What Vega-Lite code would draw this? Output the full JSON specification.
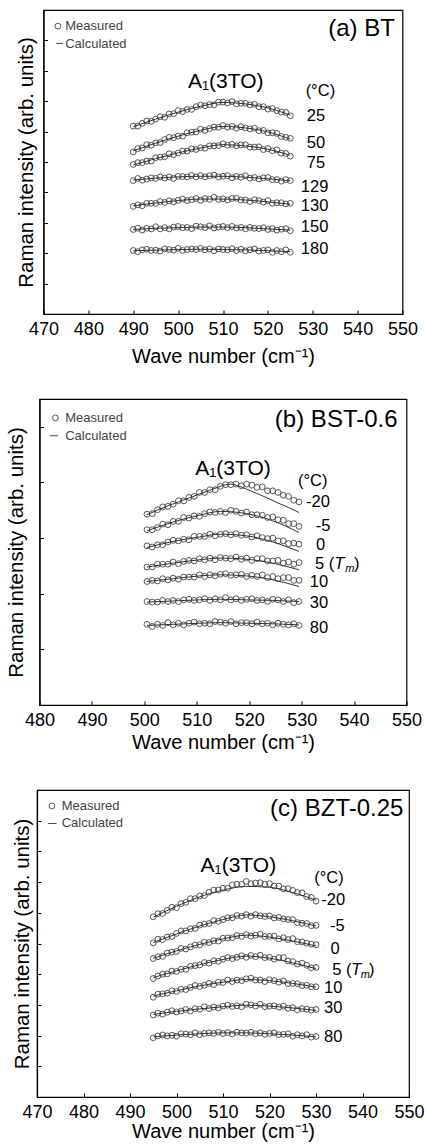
{
"$schema":"https://vega.github.io/schema/vega-lite/v6.json",
"padding":{"left":5,"top":9,"right":0,"bottom":0},
"autosize":{"type":"pad"},
"bounds":"flush",
"center":true,
"spacing":85,
"config":{
"font":"Liberation Sans",
"view":{"stroke":"#000","strokeWidth":1.2},
"axis":{"grid":false,"domainColor":"#000","domainWidth":1.2,"tickColor":"#000","tickSize":-4,"tickWidth":1,"labelColor":"#000","labelFont":"Liberation Sans","labelFontSize":18,"titleColor":"#000","titleFont":"Liberation Sans","titleFontSize":20,"titleFontWeight":"normal","labelFlush":false,"labelOverlap":false},
"axisX":{"labelPadding":10},
"axisY":{"titleFontSize":20.5},
"point":{"shape":"circle","filled":false,"size":34,"color":"#444","strokeWidth":0.9,"opacity":1}
},
"datasets":{
"am":[
{"s":"25","x":490,"y":6.18},{"s":"25","x":491,"y":6.18},{"s":"25","x":492,"y":6.27},{"s":"25","x":493,"y":6.35},{"s":"25","x":494,"y":6.34},{"s":"25","x":495,"y":6.41},{"s":"25","x":496,"y":6.49},{"s":"25","x":497,"y":6.47},{"s":"25","x":498,"y":6.58},{"s":"25","x":499,"y":6.59},{"s":"25","x":500,"y":6.69},{"s":"25","x":501,"y":6.66},{"s":"25","x":502,"y":6.73},{"s":"25","x":503,"y":6.73},{"s":"25","x":504,"y":6.82},{"s":"25","x":505,"y":6.87},{"s":"25","x":506,"y":6.85},{"s":"25","x":507,"y":6.89},{"s":"25","x":508,"y":6.88},{"s":"25","x":509,"y":6.97},{"s":"25","x":510,"y":6.97},{"s":"25","x":511,"y":6.94},{"s":"25","x":512,"y":6.99},{"s":"25","x":513,"y":6.91},{"s":"25","x":514,"y":6.93},{"s":"25","x":515,"y":6.93},{"s":"25","x":516,"y":6.88},{"s":"25","x":517,"y":6.90},{"s":"25","x":518,"y":6.82},{"s":"25","x":519,"y":6.82},{"s":"25","x":520,"y":6.74},{"s":"25","x":521,"y":6.76},{"s":"25","x":522,"y":6.69},{"s":"25","x":523,"y":6.64},{"s":"25","x":524,"y":6.63},{"s":"25","x":525,"y":6.52},
{"s":"50","x":490,"y":5.33},{"s":"50","x":491,"y":5.44},{"s":"50","x":492,"y":5.46},{"s":"50","x":493,"y":5.57},{"s":"50","x":494,"y":5.55},{"s":"50","x":495,"y":5.63},{"s":"50","x":496,"y":5.64},{"s":"50","x":497,"y":5.74},{"s":"50","x":498,"y":5.81},{"s":"50","x":499,"y":5.80},{"s":"50","x":500,"y":5.85},{"s":"50","x":501,"y":5.85},{"s":"50","x":502,"y":5.96},{"s":"50","x":503,"y":5.98},{"s":"50","x":504,"y":5.99},{"s":"50","x":505,"y":6.08},{"s":"50","x":506,"y":6.04},{"s":"50","x":507,"y":6.10},{"s":"50","x":508,"y":6.15},{"s":"50","x":509,"y":6.14},{"s":"50","x":510,"y":6.20},{"s":"50","x":511,"y":6.15},{"s":"50","x":512,"y":6.17},{"s":"50","x":513,"y":6.11},{"s":"50","x":514,"y":6.16},{"s":"50","x":515,"y":6.12},{"s":"50","x":516,"y":6.09},{"s":"50","x":517,"y":6.11},{"s":"50","x":518,"y":6.03},{"s":"50","x":519,"y":6.04},{"s":"50","x":520,"y":5.96},{"s":"50","x":521,"y":5.96},{"s":"50","x":522,"y":5.94},{"s":"50","x":523,"y":5.84},{"s":"50","x":524,"y":5.81},{"s":"50","x":525,"y":5.78},
{"s":"75","x":490,"y":4.92},{"s":"75","x":491,"y":4.98},{"s":"75","x":492,"y":4.98},{"s":"75","x":493,"y":5.03},{"s":"75","x":494,"y":5.03},{"s":"75","x":495,"y":5.14},{"s":"75","x":496,"y":5.16},{"s":"75","x":497,"y":5.17},{"s":"75","x":498,"y":5.27},{"s":"75","x":499,"y":5.24},{"s":"75","x":500,"y":5.30},{"s":"75","x":501,"y":5.36},{"s":"75","x":502,"y":5.36},{"s":"75","x":503,"y":5.43},{"s":"75","x":504,"y":5.41},{"s":"75","x":505,"y":5.47},{"s":"75","x":506,"y":5.45},{"s":"75","x":507,"y":5.53},{"s":"75","x":508,"y":5.53},{"s":"75","x":509,"y":5.54},{"s":"75","x":510,"y":5.60},{"s":"75","x":511,"y":5.55},{"s":"75","x":512,"y":5.58},{"s":"75","x":513,"y":5.53},{"s":"75","x":514,"y":5.56},{"s":"75","x":515,"y":5.57},{"s":"75","x":516,"y":5.49},{"s":"75","x":517,"y":5.49},{"s":"75","x":518,"y":5.50},{"s":"75","x":519,"y":5.41},{"s":"75","x":520,"y":5.44},{"s":"75","x":521,"y":5.37},{"s":"75","x":522,"y":5.40},{"s":"75","x":523,"y":5.29},{"s":"75","x":524,"y":5.28},{"s":"75","x":525,"y":5.19},
{"s":"129","x":490,"y":4.39},{"s":"129","x":491,"y":4.46},{"s":"129","x":492,"y":4.40},{"s":"129","x":493,"y":4.44},{"s":"129","x":494,"y":4.48},{"s":"129","x":495,"y":4.46},{"s":"129","x":496,"y":4.51},{"s":"129","x":497,"y":4.47},{"s":"129","x":498,"y":4.51},{"s":"129","x":499,"y":4.46},{"s":"129","x":500,"y":4.53},{"s":"129","x":501,"y":4.52},{"s":"129","x":502,"y":4.51},{"s":"129","x":503,"y":4.56},{"s":"129","x":504,"y":4.51},{"s":"129","x":505,"y":4.55},{"s":"129","x":506,"y":4.51},{"s":"129","x":507,"y":4.55},{"s":"129","x":508,"y":4.57},{"s":"129","x":509,"y":4.51},{"s":"129","x":510,"y":4.53},{"s":"129","x":511,"y":4.55},{"s":"129","x":512,"y":4.48},{"s":"129","x":513,"y":4.53},{"s":"129","x":514,"y":4.50},{"s":"129","x":515,"y":4.55},{"s":"129","x":516,"y":4.47},{"s":"129","x":517,"y":4.49},{"s":"129","x":518,"y":4.44},{"s":"129","x":519,"y":4.48},{"s":"129","x":520,"y":4.49},{"s":"129","x":521,"y":4.42},{"s":"129","x":522,"y":4.42},{"s":"129","x":523,"y":4.37},{"s":"129","x":524,"y":4.42},{"s":"129","x":525,"y":4.39},
{"s":"130","x":490,"y":3.54},{"s":"130","x":491,"y":3.59},{"s":"130","x":492,"y":3.56},{"s":"130","x":493,"y":3.64},{"s":"130","x":494,"y":3.64},{"s":"130","x":495,"y":3.64},{"s":"130","x":496,"y":3.70},{"s":"130","x":497,"y":3.67},{"s":"130","x":498,"y":3.72},{"s":"130","x":499,"y":3.69},{"s":"130","x":500,"y":3.74},{"s":"130","x":501,"y":3.78},{"s":"130","x":502,"y":3.73},{"s":"130","x":503,"y":3.76},{"s":"130","x":504,"y":3.80},{"s":"130","x":505,"y":3.74},{"s":"130","x":506,"y":3.80},{"s":"130","x":507,"y":3.77},{"s":"130","x":508,"y":3.84},{"s":"130","x":509,"y":3.77},{"s":"130","x":510,"y":3.79},{"s":"130","x":511,"y":3.75},{"s":"130","x":512,"y":3.80},{"s":"130","x":513,"y":3.81},{"s":"130","x":514,"y":3.75},{"s":"130","x":515,"y":3.75},{"s":"130","x":516,"y":3.70},{"s":"130","x":517,"y":3.76},{"s":"130","x":518,"y":3.73},{"s":"130","x":519,"y":3.68},{"s":"130","x":520,"y":3.73},{"s":"130","x":521,"y":3.64},{"s":"130","x":522,"y":3.66},{"s":"130","x":523,"y":3.66},{"s":"130","x":524,"y":3.62},{"s":"130","x":525,"y":3.64},
{"s":"150","x":490,"y":2.78},{"s":"150","x":491,"y":2.82},{"s":"150","x":492,"y":2.76},{"s":"150","x":493,"y":2.82},{"s":"150","x":494,"y":2.80},{"s":"150","x":495,"y":2.87},{"s":"150","x":496,"y":2.80},{"s":"150","x":497,"y":2.84},{"s":"150","x":498,"y":2.80},{"s":"150","x":499,"y":2.86},{"s":"150","x":500,"y":2.88},{"s":"150","x":501,"y":2.84},{"s":"150","x":502,"y":2.85},{"s":"150","x":503,"y":2.81},{"s":"150","x":504,"y":2.89},{"s":"150","x":505,"y":2.87},{"s":"150","x":506,"y":2.84},{"s":"150","x":507,"y":2.90},{"s":"150","x":508,"y":2.83},{"s":"150","x":509,"y":2.86},{"s":"150","x":510,"y":2.88},{"s":"150","x":511,"y":2.84},{"s":"150","x":512,"y":2.88},{"s":"150","x":513,"y":2.83},{"s":"150","x":514,"y":2.85},{"s":"150","x":515,"y":2.80},{"s":"150","x":516,"y":2.85},{"s":"150","x":517,"y":2.82},{"s":"150","x":518,"y":2.81},{"s":"150","x":519,"y":2.84},{"s":"150","x":520,"y":2.78},{"s":"150","x":521,"y":2.81},{"s":"150","x":522,"y":2.76},{"s":"150","x":523,"y":2.79},{"s":"150","x":524,"y":2.81},{"s":"150","x":525,"y":2.74},
{"s":"180","x":490,"y":2.09},{"s":"180","x":491,"y":2.05},{"s":"180","x":492,"y":2.11},{"s":"180","x":493,"y":2.13},{"s":"180","x":494,"y":2.09},{"s":"180","x":495,"y":2.10},{"s":"180","x":496,"y":2.07},{"s":"180","x":497,"y":2.14},{"s":"180","x":498,"y":2.12},{"s":"180","x":499,"y":2.10},{"s":"180","x":500,"y":2.16},{"s":"180","x":501,"y":2.09},{"s":"180","x":502,"y":2.12},{"s":"180","x":503,"y":2.14},{"s":"180","x":504,"y":2.12},{"s":"180","x":505,"y":2.16},{"s":"180","x":506,"y":2.11},{"s":"180","x":507,"y":2.14},{"s":"180","x":508,"y":2.08},{"s":"180","x":509,"y":2.14},{"s":"180","x":510,"y":2.12},{"s":"180","x":511,"y":2.11},{"s":"180","x":512,"y":2.15},{"s":"180","x":513,"y":2.09},{"s":"180","x":514,"y":2.13},{"s":"180","x":515,"y":2.08},{"s":"180","x":516,"y":2.11},{"s":"180","x":517,"y":2.14},{"s":"180","x":518,"y":2.07},{"s":"180","x":519,"y":2.09},{"s":"180","x":520,"y":2.11},{"s":"180","x":521,"y":2.03},{"s":"180","x":522,"y":2.09},{"s":"180","x":523,"y":2.05},{"s":"180","x":524,"y":2.11},{"s":"180","x":525,"y":2.03}
],
"al":[
{"s":"25","x":490,"y":6.16},{"s":"25","x":495,"y":6.41},{"s":"25","x":500,"y":6.64},{"s":"25","x":505,"y":6.83},{"s":"25","x":510,"y":6.96},{"s":"25","x":515,"y":6.91},{"s":"25","x":520,"y":6.78},{"s":"25","x":525,"y":6.54},
{"s":"50","x":490,"y":5.37},{"s":"50","x":495,"y":5.62},{"s":"50","x":500,"y":5.85},{"s":"50","x":505,"y":6.04},{"s":"50","x":510,"y":6.17},{"s":"50","x":515,"y":6.12},{"s":"50","x":520,"y":5.99},{"s":"50","x":525,"y":5.75},
{"s":"75","x":490,"y":4.90},{"s":"75","x":495,"y":5.11},{"s":"75","x":500,"y":5.30},{"s":"75","x":505,"y":5.46},{"s":"75","x":510,"y":5.57},{"s":"75","x":515,"y":5.53},{"s":"75","x":520,"y":5.42},{"s":"75","x":525,"y":5.22},
{"s":"129","x":490,"y":4.41},{"s":"129","x":495,"y":4.47},{"s":"129","x":500,"y":4.51},{"s":"129","x":505,"y":4.53},{"s":"129","x":510,"y":4.53},{"s":"129","x":515,"y":4.50},{"s":"129","x":520,"y":4.45},{"s":"129","x":525,"y":4.38},
{"s":"130","x":490,"y":3.56},{"s":"130","x":495,"y":3.65},{"s":"130","x":500,"y":3.73},{"s":"130","x":505,"y":3.78},{"s":"130","x":510,"y":3.78},{"s":"130","x":515,"y":3.75},{"s":"130","x":520,"y":3.69},{"s":"130","x":525,"y":3.61},
{"s":"150","x":490,"y":2.78},{"s":"150","x":495,"y":2.82},{"s":"150","x":500,"y":2.84},{"s":"150","x":505,"y":2.86},{"s":"150","x":510,"y":2.86},{"s":"150","x":515,"y":2.84},{"s":"150","x":520,"y":2.80},{"s":"150","x":525,"y":2.76},
{"s":"180","x":490,"y":2.08},{"s":"180","x":495,"y":2.10},{"s":"180","x":500,"y":2.12},{"s":"180","x":505,"y":2.13},{"s":"180","x":510,"y":2.12},{"s":"180","x":515,"y":2.11},{"s":"180","x":520,"y":2.08},{"s":"180","x":525,"y":2.05}
],
"bm":[
{"s":"-20","x":500.5,"y":3.43},{"s":"-20","x":501.5,"y":3.44},{"s":"-20","x":502.5,"y":3.51},{"s":"-20","x":503.5,"y":3.56},{"s":"-20","x":504.5,"y":3.57},{"s":"-20","x":505.5,"y":3.61},{"s":"-20","x":506.5,"y":3.67},{"s":"-20","x":507.5,"y":3.67},{"s":"-20","x":508.5,"y":3.73},{"s":"-20","x":509.5,"y":3.75},{"s":"-20","x":510.5,"y":3.82},{"s":"-20","x":511.5,"y":3.82},{"s":"-20","x":512.5,"y":3.87},{"s":"-20","x":513.5,"y":3.87},{"s":"-20","x":514.5,"y":3.93},{"s":"-20","x":515.5,"y":3.96},{"s":"-20","x":516.5,"y":3.96},{"s":"-20","x":517.5,"y":3.97},{"s":"-20","x":518.5,"y":3.94},{"s":"-20","x":519.5,"y":3.97},{"s":"-20","x":520.5,"y":3.95},{"s":"-20","x":521.5,"y":3.91},{"s":"-20","x":522.5,"y":3.92},{"s":"-20","x":523.5,"y":3.85},{"s":"-20","x":524.5,"y":3.85},{"s":"-20","x":525.5,"y":3.82},{"s":"-20","x":526.5,"y":3.77},{"s":"-20","x":527.5,"y":3.75},{"s":"-20","x":528.5,"y":3.68},{"s":"-20","x":529.5,"y":3.65},
{"s":"-5","x":500.5,"y":3.15},{"s":"-5","x":501.5,"y":3.15},{"s":"-5","x":502.5,"y":3.19},{"s":"-5","x":503.5,"y":3.25},{"s":"-5","x":504.5,"y":3.24},{"s":"-5","x":505.5,"y":3.30},{"s":"-5","x":506.5,"y":3.30},{"s":"-5","x":507.5,"y":3.37},{"s":"-5","x":508.5,"y":3.36},{"s":"-5","x":509.5,"y":3.40},{"s":"-5","x":510.5,"y":3.39},{"s":"-5","x":511.5,"y":3.44},{"s":"-5","x":512.5,"y":3.47},{"s":"-5","x":513.5,"y":3.46},{"s":"-5","x":514.5,"y":3.48},{"s":"-5","x":515.5,"y":3.46},{"s":"-5","x":516.5,"y":3.50},{"s":"-5","x":517.5,"y":3.48},{"s":"-5","x":518.5,"y":3.45},{"s":"-5","x":519.5,"y":3.47},{"s":"-5","x":520.5,"y":3.42},{"s":"-5","x":521.5,"y":3.42},{"s":"-5","x":522.5,"y":3.41},{"s":"-5","x":523.5,"y":3.37},{"s":"-5","x":524.5,"y":3.38},{"s":"-5","x":525.5,"y":3.33},{"s":"-5","x":526.5,"y":3.32},{"s":"-5","x":527.5,"y":3.26},{"s":"-5","x":528.5,"y":3.26},{"s":"-5","x":529.5,"y":3.21},
{"s":"0","x":500.5,"y":2.86},{"s":"0","x":501.5,"y":2.84},{"s":"0","x":502.5,"y":2.88},{"s":"0","x":503.5,"y":2.88},{"s":"0","x":504.5,"y":2.93},{"s":"0","x":505.5,"y":2.96},{"s":"0","x":506.5,"y":2.95},{"s":"0","x":507.5,"y":2.98},{"s":"0","x":508.5,"y":2.97},{"s":"0","x":509.5,"y":3.03},{"s":"0","x":510.5,"y":3.03},{"s":"0","x":511.5,"y":3.03},{"s":"0","x":512.5,"y":3.07},{"s":"0","x":513.5,"y":3.04},{"s":"0","x":514.5,"y":3.07},{"s":"0","x":515.5,"y":3.08},{"s":"0","x":516.5,"y":3.06},{"s":"0","x":517.5,"y":3.08},{"s":"0","x":518.5,"y":3.05},{"s":"0","x":519.5,"y":3.06},{"s":"0","x":520.5,"y":3.02},{"s":"0","x":521.5,"y":3.04},{"s":"0","x":522.5,"y":3.01},{"s":"0","x":523.5,"y":2.99},{"s":"0","x":524.5,"y":3.00},{"s":"0","x":525.5,"y":2.95},{"s":"0","x":526.5,"y":2.95},{"s":"0","x":527.5,"y":2.90},{"s":"0","x":528.5,"y":2.91},{"s":"0","x":529.5,"y":2.89},
{"s":"5","x":500.5,"y":2.48},{"s":"5","x":501.5,"y":2.48},{"s":"5","x":502.5,"y":2.53},{"s":"5","x":503.5,"y":2.53},{"s":"5","x":504.5,"y":2.53},{"s":"5","x":505.5,"y":2.57},{"s":"5","x":506.5,"y":2.54},{"s":"5","x":507.5,"y":2.58},{"s":"5","x":508.5,"y":2.60},{"s":"5","x":509.5,"y":2.59},{"s":"5","x":510.5,"y":2.63},{"s":"5","x":511.5,"y":2.61},{"s":"5","x":512.5,"y":2.64},{"s":"5","x":513.5,"y":2.61},{"s":"5","x":514.5,"y":2.65},{"s":"5","x":515.5,"y":2.64},{"s":"5","x":516.5,"y":2.63},{"s":"5","x":517.5,"y":2.66},{"s":"5","x":518.5,"y":2.62},{"s":"5","x":519.5,"y":2.64},{"s":"5","x":520.5,"y":2.60},{"s":"5","x":521.5,"y":2.63},{"s":"5","x":522.5,"y":2.63},{"s":"5","x":523.5,"y":2.59},{"s":"5","x":524.5,"y":2.59},{"s":"5","x":525.5,"y":2.60},{"s":"5","x":526.5,"y":2.55},{"s":"5","x":527.5,"y":2.57},{"s":"5","x":528.5,"y":2.53},{"s":"5","x":529.5,"y":2.56},
{"s":"10","x":500.5,"y":2.22},{"s":"10","x":501.5,"y":2.24},{"s":"10","x":502.5,"y":2.23},{"s":"10","x":503.5,"y":2.27},{"s":"10","x":504.5,"y":2.25},{"s":"10","x":505.5,"y":2.28},{"s":"10","x":506.5,"y":2.26},{"s":"10","x":507.5,"y":2.30},{"s":"10","x":508.5,"y":2.30},{"s":"10","x":509.5,"y":2.30},{"s":"10","x":510.5,"y":2.34},{"s":"10","x":511.5,"y":2.31},{"s":"10","x":512.5,"y":2.34},{"s":"10","x":513.5,"y":2.32},{"s":"10","x":514.5,"y":2.35},{"s":"10","x":515.5,"y":2.36},{"s":"10","x":516.5,"y":2.33},{"s":"10","x":517.5,"y":2.34},{"s":"10","x":518.5,"y":2.35},{"s":"10","x":519.5,"y":2.31},{"s":"10","x":520.5,"y":2.33},{"s":"10","x":521.5,"y":2.31},{"s":"10","x":522.5,"y":2.34},{"s":"10","x":523.5,"y":2.29},{"s":"10","x":524.5,"y":2.31},{"s":"10","x":525.5,"y":2.27},{"s":"10","x":526.5,"y":2.29},{"s":"10","x":527.5,"y":2.29},{"s":"10","x":528.5,"y":2.24},{"s":"10","x":529.5,"y":2.24},
{"s":"30","x":500.5,"y":1.86},{"s":"30","x":501.5,"y":1.85},{"s":"30","x":502.5,"y":1.85},{"s":"30","x":503.5,"y":1.88},{"s":"30","x":504.5,"y":1.86},{"s":"30","x":505.5,"y":1.88},{"s":"30","x":506.5,"y":1.86},{"s":"30","x":507.5,"y":1.89},{"s":"30","x":508.5,"y":1.90},{"s":"30","x":509.5,"y":1.88},{"s":"30","x":510.5,"y":1.89},{"s":"30","x":511.5,"y":1.91},{"s":"30","x":512.5,"y":1.88},{"s":"30","x":513.5,"y":1.91},{"s":"30","x":514.5,"y":1.89},{"s":"30","x":515.5,"y":1.93},{"s":"30","x":516.5,"y":1.89},{"s":"30","x":517.5,"y":1.91},{"s":"30","x":518.5,"y":1.88},{"s":"30","x":519.5,"y":1.90},{"s":"30","x":520.5,"y":1.91},{"s":"30","x":521.5,"y":1.88},{"s":"30","x":522.5,"y":1.89},{"s":"30","x":523.5,"y":1.86},{"s":"30","x":524.5,"y":1.90},{"s":"30","x":525.5,"y":1.89},{"s":"30","x":526.5,"y":1.86},{"s":"30","x":527.5,"y":1.89},{"s":"30","x":528.5,"y":1.84},{"s":"30","x":529.5,"y":1.86},
{"s":"80","x":500.5,"y":1.45},{"s":"80","x":501.5,"y":1.41},{"s":"80","x":502.5,"y":1.45},{"s":"80","x":503.5,"y":1.43},{"s":"80","x":504.5,"y":1.48},{"s":"80","x":505.5,"y":1.44},{"s":"80","x":506.5,"y":1.47},{"s":"80","x":507.5,"y":1.44},{"s":"80","x":508.5,"y":1.47},{"s":"80","x":509.5,"y":1.49},{"s":"80","x":510.5,"y":1.46},{"s":"80","x":511.5,"y":1.47},{"s":"80","x":512.5,"y":1.46},{"s":"80","x":513.5,"y":1.50},{"s":"80","x":514.5,"y":1.49},{"s":"80","x":515.5,"y":1.47},{"s":"80","x":516.5,"y":1.50},{"s":"80","x":517.5,"y":1.46},{"s":"80","x":518.5,"y":1.48},{"s":"80","x":519.5,"y":1.48},{"s":"80","x":520.5,"y":1.46},{"s":"80","x":521.5,"y":1.49},{"s":"80","x":522.5,"y":1.46},{"s":"80","x":523.5,"y":1.47},{"s":"80","x":524.5,"y":1.44},{"s":"80","x":525.5,"y":1.47},{"s":"80","x":526.5,"y":1.45},{"s":"80","x":527.5,"y":1.44},{"s":"80","x":528.5,"y":1.46},{"s":"80","x":529.5,"y":1.43}
],
"bl":[
{"s":"-20","x":500.5,"y":3.42},{"s":"-20","x":504.5,"y":3.58},{"s":"-20","x":508.5,"y":3.72},{"s":"-20","x":512.5,"y":3.86},{"s":"-20","x":516.5,"y":3.97},{"s":"-20","x":517.5,"y":3.95},{"s":"-20","x":519.5,"y":3.88},{"s":"-20","x":521.5,"y":3.80},{"s":"-20","x":523.5,"y":3.72},{"s":"-20","x":525.5,"y":3.63},{"s":"-20","x":527.5,"y":3.55},{"s":"-20","x":529.5,"y":3.46},
{"s":"-5","x":500.5,"y":3.13},{"s":"-5","x":505.5,"y":3.29},{"s":"-5","x":510.5,"y":3.41},{"s":"-5","x":514.5,"y":3.48},{"s":"-5","x":519.5,"y":3.44},{"s":"-5","x":524.5,"y":3.31},{"s":"-5","x":529.5,"y":3.10},
{"s":"0","x":500.5,"y":2.83},{"s":"0","x":505.5,"y":2.94},{"s":"0","x":510.5,"y":3.02},{"s":"0","x":514.5,"y":3.07},{"s":"0","x":519.5,"y":3.04},{"s":"0","x":524.5,"y":2.93},{"s":"0","x":529.5,"y":2.76},
{"s":"5","x":500.5,"y":2.48},{"s":"5","x":505.5,"y":2.55},{"s":"5","x":510.5,"y":2.61},{"s":"5","x":514.5,"y":2.64},{"s":"5","x":519.5,"y":2.62},{"s":"5","x":524.5,"y":2.55},{"s":"5","x":529.5,"y":2.43},
{"s":"10","x":500.5,"y":2.22},{"s":"10","x":505.5,"y":2.27},{"s":"10","x":510.5,"y":2.32},{"s":"10","x":514.5,"y":2.34},{"s":"10","x":519.5,"y":2.32},{"s":"10","x":524.5,"y":2.25},{"s":"10","x":529.5,"y":2.13},
{"s":"30","x":500.5,"y":1.85},{"s":"30","x":505.5,"y":1.87},{"s":"30","x":510.5,"y":1.89},{"s":"30","x":514.5,"y":1.90},{"s":"30","x":519.5,"y":1.89},{"s":"30","x":524.5,"y":1.88},{"s":"30","x":529.5,"y":1.86},
{"s":"80","x":500.5,"y":1.43},{"s":"80","x":505.5,"y":1.45},{"s":"80","x":510.5,"y":1.47},{"s":"80","x":514.5,"y":1.48},{"s":"80","x":519.5,"y":1.47},{"s":"80","x":524.5,"y":1.46},{"s":"80","x":529.5,"y":1.44}
],
"cm":[
{"s":"-20","x":495,"y":5.87},{"s":"-20","x":496,"y":5.97},{"s":"-20","x":497,"y":5.98},{"s":"-20","x":498,"y":6.08},{"s":"-20","x":499,"y":6.18},{"s":"-20","x":500,"y":6.17},{"s":"-20","x":501,"y":6.30},{"s":"-20","x":502,"y":6.34},{"s":"-20","x":503,"y":6.46},{"s":"-20","x":504,"y":6.46},{"s":"-20","x":505,"y":6.55},{"s":"-20","x":506,"y":6.56},{"s":"-20","x":507,"y":6.67},{"s":"-20","x":508,"y":6.74},{"s":"-20","x":509,"y":6.74},{"s":"-20","x":510,"y":6.80},{"s":"-20","x":511,"y":6.80},{"s":"-20","x":512,"y":6.91},{"s":"-20","x":513,"y":6.93},{"s":"-20","x":514,"y":6.93},{"s":"-20","x":515,"y":7.02},{"s":"-20","x":516,"y":6.95},{"s":"-20","x":517,"y":6.97},{"s":"-20","x":518,"y":6.98},{"s":"-20","x":519,"y":6.93},{"s":"-20","x":520,"y":6.95},{"s":"-20","x":521,"y":6.87},{"s":"-20","x":522,"y":6.87},{"s":"-20","x":523,"y":6.78},{"s":"-20","x":524,"y":6.79},{"s":"-20","x":525,"y":6.73},{"s":"-20","x":526,"y":6.66},{"s":"-20","x":527,"y":6.65},{"s":"-20","x":528,"y":6.53},{"s":"-20","x":529,"y":6.50},{"s":"-20","x":530,"y":6.38},
{"s":"-5","x":495,"y":5.02},{"s":"-5","x":496,"y":5.14},{"s":"-5","x":497,"y":5.13},{"s":"-5","x":498,"y":5.21},{"s":"-5","x":499,"y":5.23},{"s":"-5","x":500,"y":5.33},{"s":"-5","x":501,"y":5.41},{"s":"-5","x":502,"y":5.41},{"s":"-5","x":503,"y":5.48},{"s":"-5","x":504,"y":5.49},{"s":"-5","x":505,"y":5.60},{"s":"-5","x":506,"y":5.63},{"s":"-5","x":507,"y":5.65},{"s":"-5","x":508,"y":5.75},{"s":"-5","x":509,"y":5.72},{"s":"-5","x":510,"y":5.78},{"s":"-5","x":511,"y":5.84},{"s":"-5","x":512,"y":5.84},{"s":"-5","x":513,"y":5.91},{"s":"-5","x":514,"y":5.89},{"s":"-5","x":515,"y":5.94},{"s":"-5","x":516,"y":5.89},{"s":"-5","x":517,"y":5.94},{"s":"-5","x":518,"y":5.90},{"s":"-5","x":519,"y":5.88},{"s":"-5","x":520,"y":5.90},{"s":"-5","x":521,"y":5.83},{"s":"-5","x":522,"y":5.85},{"s":"-5","x":523,"y":5.80},{"s":"-5","x":524,"y":5.78},{"s":"-5","x":525,"y":5.78},{"s":"-5","x":526,"y":5.68},{"s":"-5","x":527,"y":5.66},{"s":"-5","x":528,"y":5.65},{"s":"-5","x":529,"y":5.58},{"s":"-5","x":530,"y":5.59},
{"s":"0","x":495,"y":4.51},{"s":"0","x":496,"y":4.57},{"s":"0","x":497,"y":4.58},{"s":"0","x":498,"y":4.69},{"s":"0","x":499,"y":4.72},{"s":"0","x":500,"y":4.74},{"s":"0","x":501,"y":4.84},{"s":"0","x":502,"y":4.82},{"s":"0","x":503,"y":4.89},{"s":"0","x":504,"y":4.95},{"s":"0","x":505,"y":4.96},{"s":"0","x":506,"y":5.04},{"s":"0","x":507,"y":5.03},{"s":"0","x":508,"y":5.09},{"s":"0","x":509,"y":5.08},{"s":"0","x":510,"y":5.17},{"s":"0","x":511,"y":5.18},{"s":"0","x":512,"y":5.19},{"s":"0","x":513,"y":5.26},{"s":"0","x":514,"y":5.23},{"s":"0","x":515,"y":5.29},{"s":"0","x":516,"y":5.24},{"s":"0","x":517,"y":5.27},{"s":"0","x":518,"y":5.30},{"s":"0","x":519,"y":5.23},{"s":"0","x":520,"y":5.23},{"s":"0","x":521,"y":5.24},{"s":"0","x":522,"y":5.15},{"s":"0","x":523,"y":5.19},{"s":"0","x":524,"y":5.13},{"s":"0","x":525,"y":5.16},{"s":"0","x":526,"y":5.06},{"s":"0","x":527,"y":5.05},{"s":"0","x":528,"y":5.01},{"s":"0","x":529,"y":4.98},{"s":"0","x":530,"y":4.96},
{"s":"5","x":495,"y":3.86},{"s":"5","x":496,"y":3.94},{"s":"5","x":497,"y":4.00},{"s":"5","x":498,"y":4.01},{"s":"5","x":499,"y":4.10},{"s":"5","x":500,"y":4.09},{"s":"5","x":501,"y":4.16},{"s":"5","x":502,"y":4.16},{"s":"5","x":503,"y":4.26},{"s":"5","x":504,"y":4.28},{"s":"5","x":505,"y":4.30},{"s":"5","x":506,"y":4.38},{"s":"5","x":507,"y":4.36},{"s":"5","x":508,"y":4.44},{"s":"5","x":509,"y":4.42},{"s":"5","x":510,"y":4.49},{"s":"5","x":511,"y":4.54},{"s":"5","x":512,"y":4.51},{"s":"5","x":513,"y":4.55},{"s":"5","x":514,"y":4.60},{"s":"5","x":515,"y":4.55},{"s":"5","x":516,"y":4.61},{"s":"5","x":517,"y":4.57},{"s":"5","x":518,"y":4.62},{"s":"5","x":519,"y":4.54},{"s":"5","x":520,"y":4.55},{"s":"5","x":521,"y":4.49},{"s":"5","x":522,"y":4.54},{"s":"5","x":523,"y":4.54},{"s":"5","x":524,"y":4.43},{"s":"5","x":525,"y":4.41},{"s":"5","x":526,"y":4.33},{"s":"5","x":527,"y":4.36},{"s":"5","x":528,"y":4.29},{"s":"5","x":529,"y":4.21},{"s":"5","x":530,"y":4.22},
{"s":"10","x":495,"y":3.25},{"s":"10","x":496,"y":3.35},{"s":"10","x":497,"y":3.36},{"s":"10","x":498,"y":3.38},{"s":"10","x":499,"y":3.46},{"s":"10","x":500,"y":3.44},{"s":"10","x":501,"y":3.51},{"s":"10","x":502,"y":3.50},{"s":"10","x":503,"y":3.57},{"s":"10","x":504,"y":3.63},{"s":"10","x":505,"y":3.60},{"s":"10","x":506,"y":3.64},{"s":"10","x":507,"y":3.70},{"s":"10","x":508,"y":3.66},{"s":"10","x":509,"y":3.74},{"s":"10","x":510,"y":3.73},{"s":"10","x":511,"y":3.81},{"s":"10","x":512,"y":3.76},{"s":"10","x":513,"y":3.81},{"s":"10","x":514,"y":3.79},{"s":"10","x":515,"y":3.85},{"s":"10","x":516,"y":3.87},{"s":"10","x":517,"y":3.81},{"s":"10","x":518,"y":3.81},{"s":"10","x":519,"y":3.76},{"s":"10","x":520,"y":3.82},{"s":"10","x":521,"y":3.79},{"s":"10","x":522,"y":3.74},{"s":"10","x":523,"y":3.78},{"s":"10","x":524,"y":3.69},{"s":"10","x":525,"y":3.70},{"s":"10","x":526,"y":3.69},{"s":"10","x":527,"y":3.63},{"s":"10","x":528,"y":3.64},{"s":"10","x":529,"y":3.59},{"s":"10","x":530,"y":3.59},
{"s":"30","x":495,"y":2.67},{"s":"30","x":496,"y":2.73},{"s":"30","x":497,"y":2.70},{"s":"30","x":498,"y":2.76},{"s":"30","x":499,"y":2.81},{"s":"30","x":500,"y":2.77},{"s":"30","x":501,"y":2.80},{"s":"30","x":502,"y":2.85},{"s":"30","x":503,"y":2.80},{"s":"30","x":504,"y":2.88},{"s":"30","x":505,"y":2.86},{"s":"30","x":506,"y":2.94},{"s":"30","x":507,"y":2.88},{"s":"30","x":508,"y":2.93},{"s":"30","x":509,"y":2.90},{"s":"30","x":510,"y":2.96},{"s":"30","x":511,"y":2.99},{"s":"30","x":512,"y":2.95},{"s":"30","x":513,"y":2.97},{"s":"30","x":514,"y":2.94},{"s":"30","x":515,"y":3.02},{"s":"30","x":516,"y":3.00},{"s":"30","x":517,"y":2.96},{"s":"30","x":518,"y":3.02},{"s":"30","x":519,"y":2.94},{"s":"30","x":520,"y":2.96},{"s":"30","x":521,"y":2.97},{"s":"30","x":522,"y":2.93},{"s":"30","x":523,"y":2.96},{"s":"30","x":524,"y":2.89},{"s":"30","x":525,"y":2.91},{"s":"30","x":526,"y":2.84},{"s":"30","x":527,"y":2.88},{"s":"30","x":528,"y":2.86},{"s":"30","x":529,"y":2.83},{"s":"30","x":530,"y":2.85},
{"s":"80","x":495,"y":1.93},{"s":"80","x":496,"y":1.99},{"s":"80","x":497,"y":2.02},{"s":"80","x":498,"y":1.99},{"s":"80","x":499,"y":2.01},{"s":"80","x":500,"y":1.98},{"s":"80","x":501,"y":2.06},{"s":"80","x":502,"y":2.05},{"s":"80","x":503,"y":2.03},{"s":"80","x":504,"y":2.09},{"s":"80","x":505,"y":2.03},{"s":"80","x":506,"y":2.07},{"s":"80","x":507,"y":2.09},{"s":"80","x":508,"y":2.07},{"s":"80","x":509,"y":2.11},{"s":"80","x":510,"y":2.07},{"s":"80","x":511,"y":2.10},{"s":"80","x":512,"y":2.05},{"s":"80","x":513,"y":2.11},{"s":"80","x":514,"y":2.09},{"s":"80","x":515,"y":2.08},{"s":"80","x":516,"y":2.11},{"s":"80","x":517,"y":2.06},{"s":"80","x":518,"y":2.09},{"s":"80","x":519,"y":2.04},{"s":"80","x":520,"y":2.07},{"s":"80","x":521,"y":2.09},{"s":"80","x":522,"y":2.03},{"s":"80","x":523,"y":2.04},{"s":"80","x":524,"y":2.06},{"s":"80","x":525,"y":1.98},{"s":"80","x":526,"y":2.03},{"s":"80","x":527,"y":1.99},{"s":"80","x":528,"y":2.03},{"s":"80","x":529,"y":1.95},{"s":"80","x":530,"y":1.97}
],
"cl":[
{"s":"-20","x":495,"y":5.86},{"s":"-20","x":500,"y":6.21},{"s":"-20","x":505,"y":6.52},{"s":"-20","x":510,"y":6.74},{"s":"-20","x":515,"y":6.86},{"s":"-20","x":520,"y":6.83},{"s":"-20","x":525,"y":6.66},{"s":"-20","x":530,"y":6.41},
{"s":"-5","x":495,"y":5.03},{"s":"-5","x":500,"y":5.31},{"s":"-5","x":505,"y":5.57},{"s":"-5","x":510,"y":5.78},{"s":"-5","x":515,"y":5.93},{"s":"-5","x":520,"y":5.87},{"s":"-5","x":525,"y":5.74},{"s":"-5","x":530,"y":5.57},
{"s":"0","x":495,"y":4.52},{"s":"0","x":500,"y":4.76},{"s":"0","x":505,"y":4.97},{"s":"0","x":510,"y":5.15},{"s":"0","x":515,"y":5.27},{"s":"0","x":520,"y":5.21},{"s":"0","x":525,"y":5.08},{"s":"0","x":530,"y":4.92},
{"s":"5","x":495,"y":3.89},{"s":"5","x":500,"y":4.11},{"s":"5","x":505,"y":4.31},{"s":"5","x":510,"y":4.48},{"s":"5","x":515,"y":4.59},{"s":"5","x":520,"y":4.52},{"s":"5","x":525,"y":4.37},{"s":"5","x":530,"y":4.18},
{"s":"10","x":495,"y":3.29},{"s":"10","x":500,"y":3.46},{"s":"10","x":505,"y":3.62},{"s":"10","x":510,"y":3.74},{"s":"10","x":515,"y":3.83},{"s":"10","x":520,"y":3.79},{"s":"10","x":525,"y":3.70},{"s":"10","x":530,"y":3.58},
{"s":"30","x":495,"y":2.69},{"s":"30","x":500,"y":2.79},{"s":"30","x":505,"y":2.87},{"s":"30","x":510,"y":2.94},{"s":"30","x":515,"y":2.99},{"s":"30","x":520,"y":2.96},{"s":"30","x":525,"y":2.90},{"s":"30","x":530,"y":2.82},
{"s":"80","x":495,"y":1.96},{"s":"80","x":500,"y":2.02},{"s":"80","x":505,"y":2.06},{"s":"80","x":510,"y":2.09},{"s":"80","x":515,"y":2.09},{"s":"80","x":520,"y":2.06},{"s":"80","x":525,"y":2.02},{"s":"80","x":530,"y":1.96}
]
},
"vconcat":[
{
"width":359,"height":304,
"encoding":{
"x":{"field":"x","type":"quantitative","scale":{"domain":[470,550],"nice":false,"zero":false},"axis":{"values":[470,480,490,500,510,520,530,540,550],"format":"d","title":"Wave number (cm⁻¹)","titlePadding":8}},
"y":{"field":"y","type":"quantitative","scale":{"domain":[0,10],"nice":false,"zero":false},"axis":{"values":[1,2,3,4,5,6,7,8,9],"labels":false,"title":"Raman intensity (arb. units)","titlePadding":7}}
},
"layer":[
{"data":{"name":"am"},"mark":{"type":"point"}},
{"data":{"name":"al"},"mark":{"type":"line","color":"#333","strokeWidth":1,"interpolate":"monotone"},"encoding":{"detail":{"field":"s"}}},
{"data":{"values":[{"x":530.7,"y":6.5,"t":"25"},{"x":530.7,"y":5.61,"t":"50"},{"x":530.7,"y":4.96,"t":"75"},{"x":530.4,"y":4.18,"t":"129"},{"x":530.4,"y":3.56,"t":"130"},{"x":530.4,"y":2.87,"t":"150"},{"x":530.4,"y":2.13,"t":"180"},{"x":531.7,"y":7.32,"t":"(°C)"}]},"mark":{"type":"text","fontSize":16.5,"align":"center","baseline":"middle","color":"#000"},"encoding":{"text":{"field":"t"}}},
{"data":{"values":[{"x":510.6,"y":7.62,"t":"A₁(3TO)"}]},"mark":{"type":"text","fontSize":21,"align":"center","baseline":"middle","color":"#000"},"encoding":{"text":{"field":"t"}}},
{"data":{"values":[{"x":548.3,"y":9.39,"t":"(a) BT"}]},"mark":{"type":"text","fontSize":24,"align":"right","baseline":"middle","color":"#000"},"encoding":{"text":{"field":"t"}}},
{"data":{"values":[{"x":473.2,"y":9.47}]},"mark":{"type":"point"}},
{"data":{"values":[{"x":472.83,"y":8.9},{"x":474.3,"y":8.9}]},"mark":{"type":"line","color":"#444","strokeWidth":1},"encoding":{}},
{"data":{"values":[{"x":474.83,"y":9.47,"t":"Measured"},{"x":474.83,"y":8.88,"t":"Calculated"}]},"mark":{"type":"text","fontSize":13,"align":"left","baseline":"middle","color":"#444"},"encoding":{"text":{"field":"t"}}}
]
},
{
"width":367,"height":306,
"encoding":{
"x":{"field":"x","type":"quantitative","scale":{"domain":[480,550],"nice":false,"zero":false},"axis":{"values":[480,490,500,510,520,530,540,550],"format":"d","title":"Wave number (cm⁻¹)","titlePadding":3}},
"y":{"field":"y","type":"quantitative","scale":{"domain":[0,5.5],"nice":false,"zero":false},"axis":{"values":[1,2,3,4,5],"labels":false,"title":"Raman intensity (arb. units)","titlePadding":13}}
},
"layer":[
{"data":{"name":"bm"},"mark":{"type":"point"}},
{"data":{"name":"bl"},"mark":{"type":"line","color":"#333","strokeWidth":1,"interpolate":"monotone"},"encoding":{"detail":{"field":"s"}}},
{"data":{"values":[{"x":533.1,"y":3.64,"t":"-20"},{"x":534.1,"y":3.22,"t":"-5"},{"x":533.6,"y":2.87,"t":"0"},{"x":533.3,"y":2.21,"t":"10"},{"x":533.3,"y":1.83,"t":"30"},{"x":533.3,"y":1.39,"t":"80"},{"x":532.1,"y":4.03,"t":"(°C)"}]},"mark":{"type":"text","fontSize":16.5,"align":"center","baseline":"middle","color":"#000"},"encoding":{"text":{"field":"t"}}},
{"data":{"values":[{"x":532.55,"y":2.53,"t":"5 ("},{"x":540.0,"y":2.53,"t":")"}]},"mark":{"type":"text","fontSize":16.5,"align":"left","baseline":"middle","color":"#000"},"encoding":{"text":{"field":"t"}}},
{"data":{"values":[{"x":536.2,"y":2.53,"t":"T"}]},"mark":{"type":"text","fontSize":16.5,"fontStyle":"italic","align":"left","baseline":"middle","color":"#000"},"encoding":{"text":{"field":"t"}}},
{"data":{"values":[{"x":538.3,"y":2.44,"t":"m"}]},"mark":{"type":"text","fontSize":11,"fontStyle":"italic","align":"left","baseline":"middle","color":"#000"},"encoding":{"text":{"field":"t"}}},
{"data":{"values":[{"x":516.9,"y":4.24,"t":"A₁(3TO)"}]},"mark":{"type":"text","fontSize":21,"align":"center","baseline":"middle","color":"#000"},"encoding":{"text":{"field":"t"}}},
{"data":{"values":[{"x":548.3,"y":5.13,"t":"(b) BST-0.6"}]},"mark":{"type":"text","fontSize":24,"align":"right","baseline":"middle","color":"#000"},"encoding":{"text":{"field":"t"}}},
{"data":{"values":[{"x":483.05,"y":5.16}]},"mark":{"type":"point"}},
{"data":{"values":[{"x":482.0,"y":4.84},{"x":483.5,"y":4.84}]},"mark":{"type":"line","color":"#444","strokeWidth":1},"encoding":{}},
{"data":{"values":[{"x":484.9,"y":5.16,"t":"Measured"},{"x":484.9,"y":4.84,"t":"Calculated"}]},"mark":{"type":"text","fontSize":13,"align":"left","baseline":"middle","color":"#444"},"encoding":{"text":{"field":"t"}}}
]
},
{
"width":372,"height":307,
"encoding":{
"x":{"field":"x","type":"quantitative","scale":{"domain":[470,550],"nice":false,"zero":false},"axis":{"values":[470,480,490,500,510,520,530,540,550],"format":"d","title":"Wave number (cm⁻¹)","titlePadding":0}},
"y":{"field":"y","type":"quantitative","scale":{"domain":[0,10],"nice":false,"zero":false},"axis":{"values":[1,2,3,4,5,6,7,8,9],"labels":false,"title":"Raman intensity (arb. units)","titlePadding":4}}
},
"layer":[
{"data":{"name":"cm"},"mark":{"type":"point"}},
{"data":{"name":"cl"},"mark":{"type":"line","color":"#333","strokeWidth":1,"interpolate":"monotone"},"encoding":{"detail":{"field":"s"}}},
{"data":{"values":[{"x":533.7,"y":6.41,"t":"-20"},{"x":534.6,"y":5.57,"t":"-5"},{"x":534.1,"y":4.81,"t":"0"},{"x":533.7,"y":3.54,"t":"10"},{"x":533.7,"y":2.89,"t":"30"},{"x":533.7,"y":1.96,"t":"80"},{"x":532.8,"y":7.14,"t":"(°C)"}]},"mark":{"type":"text","fontSize":16.5,"align":"center","baseline":"middle","color":"#000"},"encoding":{"text":{"field":"t"}}},
{"data":{"values":[{"x":533.5,"y":4.14,"t":"5 ("},{"x":541.4,"y":4.14,"t":")"}]},"mark":{"type":"text","fontSize":16.5,"align":"left","baseline":"middle","color":"#000"},"encoding":{"text":{"field":"t"}}},
{"data":{"values":[{"x":537.6,"y":4.14,"t":"T"}]},"mark":{"type":"text","fontSize":16.5,"fontStyle":"italic","align":"left","baseline":"middle","color":"#000"},"encoding":{"text":{"field":"t"}}},
{"data":{"values":[{"x":539.6,"y":3.98,"t":"m"}]},"mark":{"type":"text","fontSize":11,"fontStyle":"italic","align":"left","baseline":"middle","color":"#000"},"encoding":{"text":{"field":"t"}}},
{"data":{"values":[{"x":513.3,"y":7.52,"t":"A₁(3TO)"}]},"mark":{"type":"text","fontSize":21,"align":"center","baseline":"middle","color":"#000"},"encoding":{"text":{"field":"t"}}},
{"data":{"values":[{"x":548.8,"y":9.37,"t":"(c) BZT-0.25"}]},"mark":{"type":"text","fontSize":24,"align":"right","baseline":"middle","color":"#000"},"encoding":{"text":{"field":"t"}}},
{"data":{"values":[{"x":473.2,"y":9.48}]},"mark":{"type":"point"}},
{"data":{"values":[{"x":472.4,"y":8.91},{"x":474.2,"y":8.91}]},"mark":{"type":"line","color":"#444","strokeWidth":1},"encoding":{}},
{"data":{"values":[{"x":475.3,"y":9.48,"t":"Measured"},{"x":475.3,"y":8.91,"t":"Calculated"}]},"mark":{"type":"text","fontSize":13,"align":"left","baseline":"middle","color":"#444"},"encoding":{"text":{"field":"t"}}}
]
}
]
}
